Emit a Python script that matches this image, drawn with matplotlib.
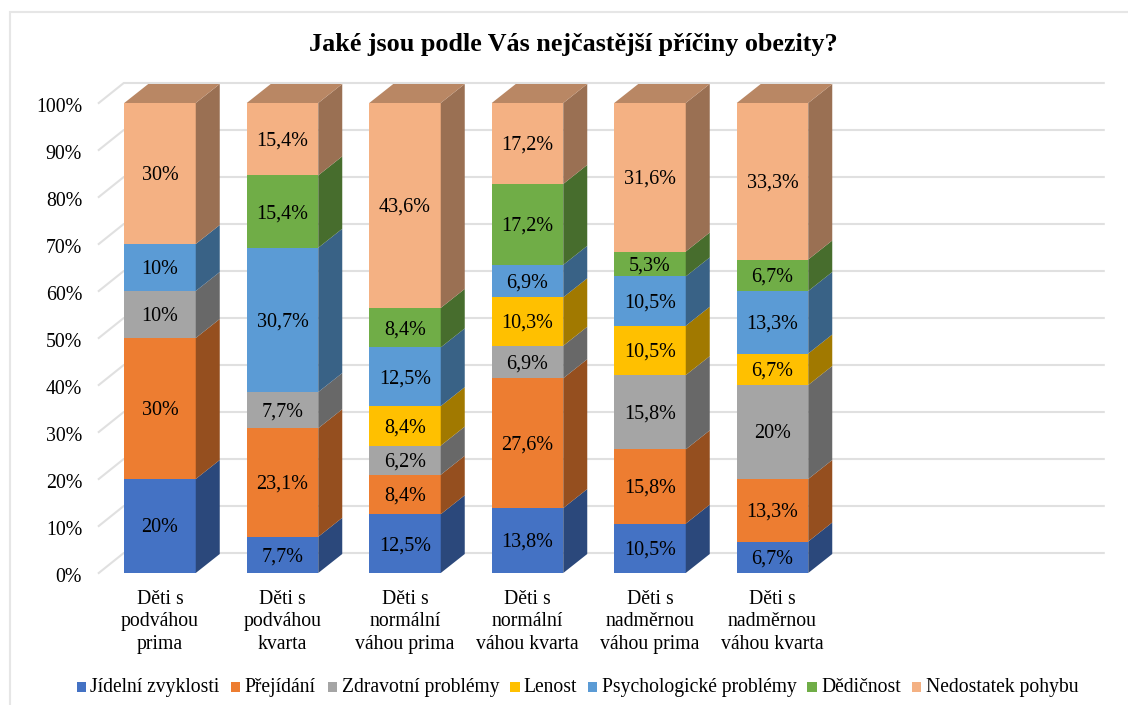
import matplotlib
matplotlib.use('Agg')
import matplotlib.pyplot as plt
from matplotlib.colors import to_rgb
from matplotlib.transforms import ScaledTranslation
import numpy as np

plt.rcParams['font.family'] = ['Liberation Serif', 'DejaVu Serif']

title = 'Jaké jsou podle Vás nejčastější příčiny obezity?'
categories = ['Děti s\npodváhou\nprima', 'Děti s\npodváhou\nkvarta', 'Děti s\nnormální\nváhou prima',
              'Děti s\nnormální\nváhou kvarta', 'Děti s\nnadměrnou\nváhou prima', 'Děti s\nnadměrnou\nváhou kvarta']
series_names = ['Jídelní zvyklosti', 'Přejídání', 'Zdravotní problémy', 'Lenost',
                'Psychologické problémy', 'Dědičnost', 'Nedostatek pohybu']

jidelni = [20, 7.7, 12.5, 13.8, 10.5, 6.7]
prejidani = [30, 23.1, 8.4, 27.6, 15.8, 13.3]
zdravotni = [10, 7.7, 6.2, 6.9, 15.8, 20]
lenost = [0, 0, 8.4, 10.3, 10.5, 6.7]
psycho = [10, 30.7, 12.5, 6.9, 10.5, 13.3]
dedicnost = [0, 15.4, 8.4, 17.2, 5.3, 6.7]
pohyb = [30, 15.4, 43.6, 17.2, 31.6, 33.3]

colors = ['#4472C4', '#ED7D31', '#A5A5A5', '#FFC000', '#5B9BD5', '#70AD47', '#F4B183']

W, H = 1128, 705
fig = plt.figure(figsize=(W / 100, H / 100), dpi=100, facecolor='white')
ax = fig.add_axes([98.75 / W, (H - 573) / H, 980 / W, 470 / H])
ax.set_xlim(-0.5, 7.5)
ax.set_ylim(0, 100)

# 3D look: depth in data units
bar_w = 71.5 / 122.5
dx = 24 / 122.5
dy = 19 / 4.7
wall_dx = 25 / 122.5
wall_dy = 20 / 4.7

# back wall grid and the left side of the wall
for v in range(0, 101, 10):
    ax.plot([-0.5, -0.5 + wall_dx, 7.5 + wall_dx], [v, v + wall_dy, v + wall_dy],
            color='#E0E0E0', lw=1.5, zorder=1, clip_on=False, solid_joinstyle='miter')

data = np.array([jidelni, prejidani, zdravotni, lenost, psycho, dedicnost, pohyb], dtype=float)
shares = data / data.sum(axis=0) * 100
x = np.arange(len(categories))
bottom = np.zeros(len(categories))

# text sits about 2 px lower than the exact centre
down = ScaledTranslation(0, -2 / 100, fig.dpi_scale_trans)

for i, name in enumerate(series_names):
    rgb = np.array(to_rgb(colors[i]))
    ax.bar(x, shares[i], bar_w, bottom=bottom, color=colors[i], zorder=3)
    for j in x:
        if data[i][j] == 0:
            continue
        r = j + bar_w / 2
        y0, y1 = bottom[j], bottom[j] + shares[i][j]
        ax.fill([r, r + dx, r + dx, r], [y0, y0 + dy, y1 + dy, y1],
                color=rgb * 0.63, lw=0, zorder=3, clip_on=False)
        if i == len(series_names) - 1:
            l = j - bar_w / 2
            ax.fill([l, l + dx, r + dx, r], [y1, y1 + dy, y1 + dy, y1],
                    color=rgb * 0.76, lw=0, zorder=3, clip_on=False)
        ax.text(j, (y0 + y1) / 2, f'{data[i][j]:g}%'.replace('.', ','), ha='center', va='center',
                fontsize=14.5, color='black', zorder=4, transform=ax.transData + down)
    bottom += shares[i]

ax.set_yticks(range(0, 101, 10))
ax.set_yticklabels([f'{v}%' for v in range(0, 101, 10)], fontsize=14.3)
ax.set_xticks(x)
ax.set_xticklabels(categories, fontsize=14.2, linespacing=1.27)
ax.tick_params(axis='x', length=0, pad=12)
ax.tick_params(axis='y', length=0, pad=12)
for t in ax.get_yticklabels():
    t.set_transform(t.get_transform() + down)
for s in ax.spines.values():
    s.set_visible(False)
ax.patch.set_alpha(0)

fig.text(573 / W, 1 - 45 / H, title, ha='center', va='center', fontsize=18.85, fontweight='bold')

# legend by hand, mpl's own legend shifts entries without descenders
legend_left = [76.7, 230.7, 327.7, 510, 587.7, 807.3, 911.7]
for px, c, n in zip(legend_left, colors, series_names):
    fig.add_artist(plt.Rectangle((px / W, 1 - 691.7 / H), 9.6 / W, 9.6 / H, color=c, lw=0,
                                 transform=fig.transFigure))
    fig.text((px + 13.8) / W, 1 - 691.7 / H, n, ha='left', va='baseline', fontsize=14.1)

# thin frame of the pasted chart
fig.add_artist(plt.Rectangle((9.5 / W, -0.01), 1.1, 1.01 - 12.5 / H, fill=False, ec='#E6E6E6', lw=1.5,
                             transform=fig.transFigure))

fig.savefig('out.png', dpi=100)
